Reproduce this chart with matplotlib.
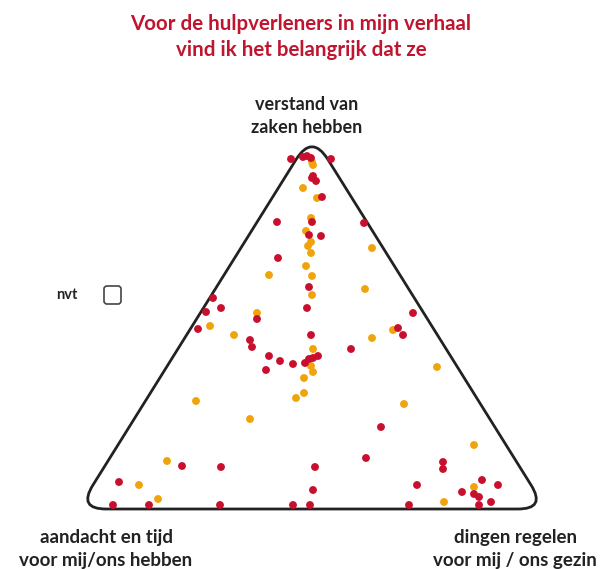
"""Ternary-style dot chart: wat vind ik belangrijk bij hulpverleners."""

import matplotlib.pyplot as plt
from matplotlib.path import Path
from matplotlib.patches import PathPatch, FancyBboxPatch


# point positions (pixel coordinates, y downwards)
red_x = [291, 303, 307, 311, 331, 312, 316, 313, 322, 277, 312, 364, 309, 321,
         278, 309, 213, 206, 221, 307, 257, 413, 198, 311, 398, 403, 250, 252,
         351, 269, 280, 293, 305, 309, 313, 318, 266, 381, 366, 315, 443, 443,
         182, 221, 119, 313, 417, 482, 498, 462, 474, 479, 491, 479, 113, 149,
         220, 293, 310, 409]
red_y = [159, 157, 156, 158, 159, 178, 181, 176, 197, 222, 222, 223, 235, 236,
         258, 287, 298, 312, 308, 308, 319, 313, 329, 335, 328, 335, 340, 347,
         349, 356, 361, 364, 363, 359, 358, 356, 370, 427, 458, 467, 462, 469,
         466, 467, 482, 490, 485, 480, 485, 492, 494, 497, 502, 505, 505, 505,
         505, 505, 505, 505]

orange_x = [312, 313, 303, 317, 311, 306, 311, 308, 311, 372, 306, 269, 312,
            312, 365, 257, 210, 234, 393, 372, 313, 311, 313, 304, 437, 304,
            296, 196, 404, 250, 167, 139, 158, 474, 474, 444]
orange_y = [162, 165, 188, 198, 218, 231, 242, 246, 253, 248, 266, 275, 276,
            295, 289, 313, 326, 335, 330, 338, 349, 366, 372, 378, 367, 393,
            398, 401, 404, 419, 461, 485, 499, 445, 487, 502]

# sharp triangle corners (top, bottom right, bottom left) and corner cut length
corners = [(312, 134), (546, 509), (78, 509)]
corner_cut = [30, 28, 28]

title = 'Voor de hulpverleners in mijn verhaal\nvind ik het belangrijk dat ze'
label_top = 'verstand van\nzaken hebben'
label_left = 'aandacht en tijd\nvoor mij/ons hebben'
label_right = 'dingen regelen\nvoor mij / ons gezin'

RED = '#c8102e'
ORANGE = '#f0a30a'


def rounded_triangle(pts, cuts):
    verts, codes = [], []
    n = len(pts)
    for i in range(n):
        px, py = pts[i - 1]
        cx, cy = pts[i]
        nx, ny = pts[(i + 1) % n]
        d1 = ((cx - px) ** 2 + (cy - py) ** 2) ** 0.5
        d2 = ((nx - cx) ** 2 + (ny - cy) ** 2) ** 0.5
        a = (cx - (cx - px) * cuts[i] / d1, cy - (cy - py) * cuts[i] / d1)
        b = (cx + (nx - cx) * cuts[i] / d2, cy + (ny - cy) * cuts[i] / d2)
        verts += [a, (cx, cy), b]
        codes += [Path.MOVETO if i == 0 else Path.LINETO, Path.CURVE3, Path.CURVE3]
    verts.append(verts[0])
    codes.append(Path.LINETO)
    return Path(verts, codes)


fig = plt.figure(figsize=(6.01, 5.69), dpi=100)
ax = fig.add_axes([0, 0, 1, 1])
ax.set_xlim(0, 601)
ax.set_ylim(569, 0)
ax.axis('off')

ax.add_patch(PathPatch(rounded_triangle(corners, corner_cut), facecolor='none',
                       edgecolor='#222222', lw=2.0, zorder=1))

ax.scatter(orange_x, orange_y, s=32, color=ORANGE, edgecolors='none', zorder=2)
ax.scatter(red_x, red_y, s=32, color=RED, edgecolors='none', zorder=3)

font = ['Lato', 'DejaVu Sans']
ax.text(301, 37, title, ha='center', va='center', color='#c0152f', fontsize=14.8,
        fontweight='bold', family=font, linespacing=1.35)
ax.text(307, 116, label_top, ha='center', va='center', color='#222222',
        fontsize=13, fontweight='bold', family=font, linespacing=1.4)
ax.text(106, 549, label_left, ha='center', va='center', color='#222222',
        fontsize=13.5, fontweight='bold', family=font, linespacing=1.4)
ax.text(515, 549, label_right, ha='center', va='center', color='#222222',
        fontsize=13.5, fontweight='bold', family=font, linespacing=1.4)

ax.text(67, 295, 'nvt', ha='center', va='center', color='#222222',
        fontsize=10.5, fontweight='bold', family=font)
ax.add_patch(FancyBboxPatch((104, 286), 17, 18, boxstyle='round,pad=0,rounding_size=3',
                            facecolor='none', edgecolor='#444444', lw=1.2))

fig.savefig('out.png', dpi=100)
